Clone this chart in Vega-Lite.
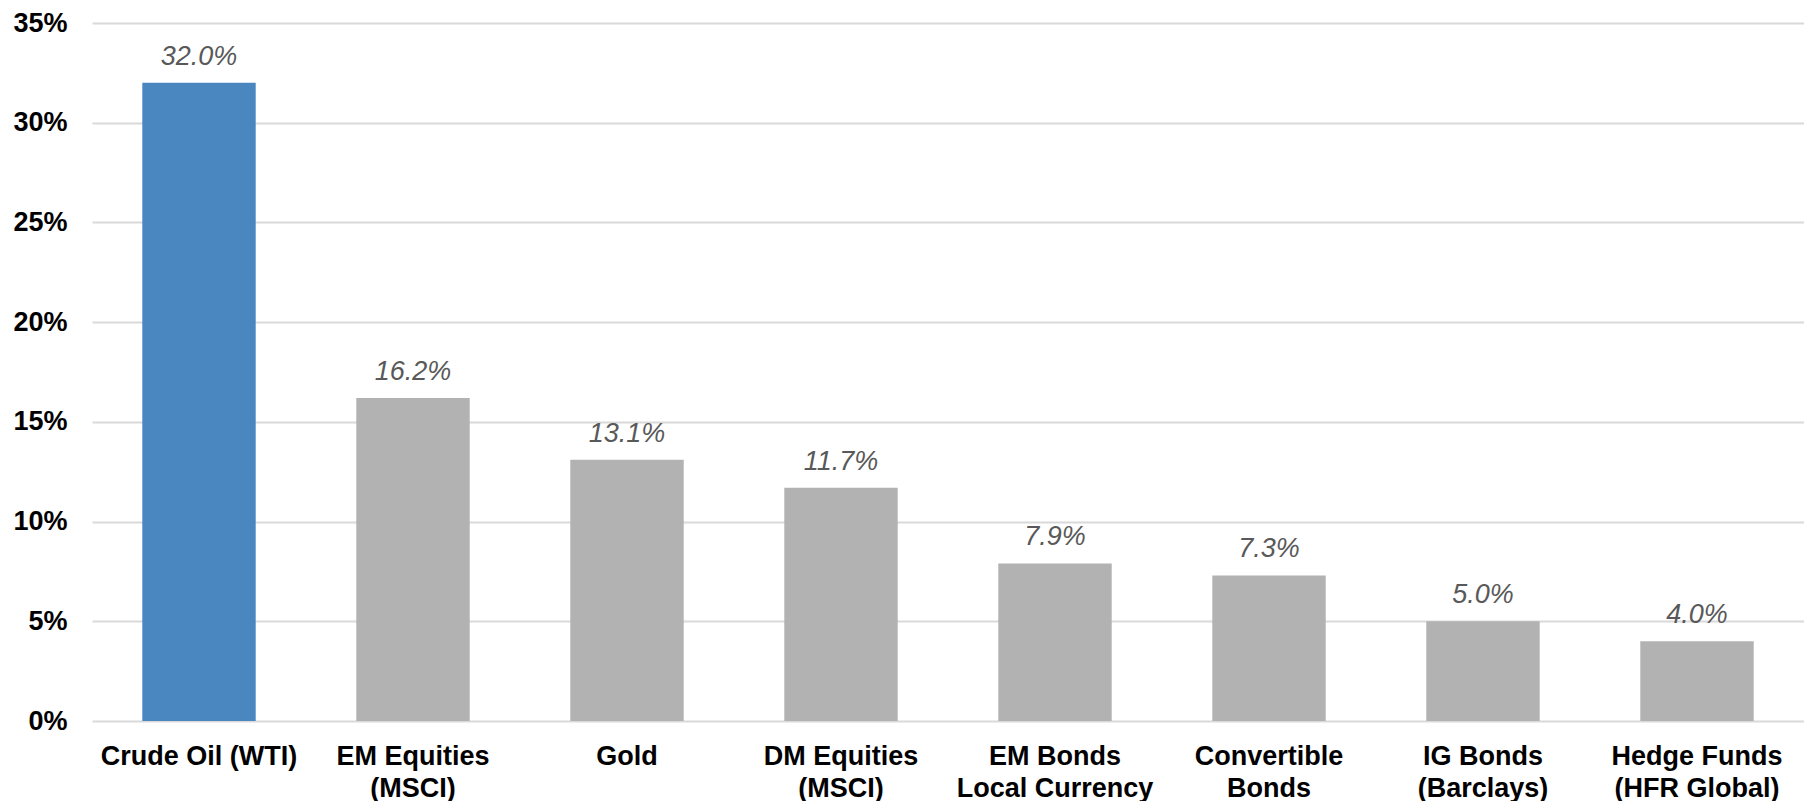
{
  "$schema": "https://vega.github.io/schema/vega-lite/v6.json",
  "width": 1712,
  "height": 698,
  "autosize": {"type": "none"},
  "padding": {"left": 92, "top": 23, "right": 0, "bottom": 80},
  "background": "white",
  "data": {
    "values": [
      {"asset": "Crude Oil (WTI)", "ret": 0.32},
      {"asset": "EM Equities|(MSCI)", "ret": 0.162},
      {"asset": "Gold", "ret": 0.131},
      {"asset": "DM Equities|(MSCI)", "ret": 0.117},
      {"asset": "EM Bonds|Local Currency", "ret": 0.079},
      {"asset": "Convertible|Bonds", "ret": 0.073},
      {"asset": "IG Bonds|(Barclays)", "ret": 0.05},
      {"asset": "Hedge Funds|(HFR Global)", "ret": 0.04}
    ]
  },
  "encoding": {
    "x": {
      "field": "asset",
      "type": "nominal",
      "sort": null,
      "title": null,
      "scale": {"paddingInner": 0.47, "paddingOuter": 0.235},
      "axis": {
        "labelAngle": 0,
        "labelExpr": "split(datum.label, '|')",
        "labelFont": "Liberation Sans",
        "labelFontSize": 27,
        "labelFontWeight": "bold",
        "labelColor": "black",
        "labelLineHeight": 32,
        "labelPadding": 22,
        "ticks": false,
        "tickSize": 0,
        "domain": false,
        "labelOverlap": false,
        "labelLimit": 400
      }
    },
    "y": {
      "field": "ret",
      "type": "quantitative",
      "title": null,
      "scale": {"domain": [0, 0.35], "nice": false},
      "axis": {
        "values": [0, 0.05, 0.1, 0.15, 0.2, 0.25, 0.3, 0.35],
        "format": ".0%",
        "labelFont": "Liberation Sans",
        "labelFontSize": 27,
        "labelFontWeight": "bold",
        "labelColor": "black",
        "labelPadding": 25,
        "ticks": false,
        "tickSize": 0,
        "domain": false,
        "grid": true,
        "gridColor": "#d9d9d9",
        "gridWidth": 2
      }
    }
  },
  "layer": [
    {
      "mark": {"type": "bar"},
      "encoding": {
        "color": {
          "condition": {"test": "datum.asset === 'Crude Oil (WTI)'", "value": "#4a87c0"},
          "value": "#b2b2b2"
        }
      }
    },
    {
      "mark": {
        "type": "text",
        "baseline": "alphabetic",
        "dy": -18,
        "font": "Liberation Sans",
        "fontSize": 27,
        "fontStyle": "italic",
        "color": "#595959"
      },
      "encoding": {
        "text": {"field": "ret", "type": "quantitative", "format": ".1%"}
      }
    }
  ],
  "config": {"view": {"stroke": null}}
}
